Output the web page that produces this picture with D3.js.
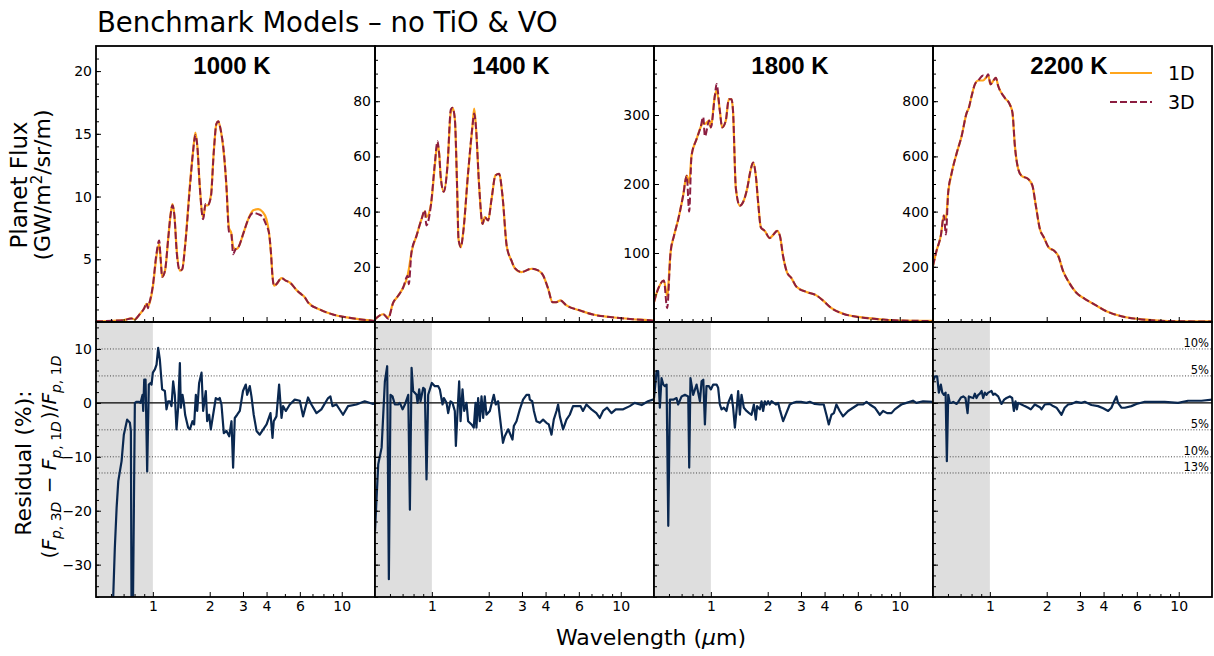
<!DOCTYPE html>
<html lang="en"><head><meta charset="utf-8">
<script type="text/javascript" src="https://cdn.jsdelivr.net/npm/d3@7"></script>
<style>body{margin:0;background:#fff;}</style>
</head>
<body>
<script type="text/javascript">
// Benchmark models, no TiO & VO: 1D vs 3D emission spectra and their residuals

var temps = ["1000 K", "1400 K", "1800 K", "2200 K"];
var seriesNames = ["1D", "3D"];

// ---- 1000 K ----
var wl1000 = [0.50, 0.62, 0.70, 0.77, 0.80, 0.85, 0.90, 0.926, 0.94, 0.96, 1.0, 1.046, 1.08, 1.10, 1.12, 1.16, 1.205, 1.24, 1.27, 1.30, 1.34, 1.39, 1.43, 1.48, 1.57, 1.63, 1.68, 1.72, 1.77, 1.846, 1.90, 1.95, 2.03, 2.10, 2.17, 2.22, 2.28, 2.38, 2.45, 2.53, 2.60, 2.66, 2.74, 2.82, 3.02, 3.20, 3.40, 3.61, 3.80, 3.99, 4.12, 4.22, 4.30, 4.38, 4.50, 4.80, 5.05, 5.31, 5.80, 6.12, 6.35, 6.64, 7.64, 8.98, 11.0, 14.6, 15.0];
var flux1d_1000 = [0.05, 0.1, 0.15, 0.3, 0.2, 0.6, 1.1, 1.45, 1.25, 1.5, 2.8, 5.3, 6.2, 5.0, 3.6, 4.1, 6.6, 8.5, 9.4, 8.5, 5.6, 4.1, 4.2, 6.0, 10.9, 13.5, 15.1, 14.0, 10.9, 8.35, 9.3, 9.3, 10.1, 13.5, 15.8, 16.0, 15.4, 13.3, 10.9, 7.5, 7.1, 6.0, 5.8, 5.9, 7.1, 8.2, 8.9, 9.0, 8.8, 8.2, 7.1, 5.5, 3.7, 2.9, 3.0, 3.5, 3.3, 3.15, 2.5, 2.2, 2.0, 1.55, 1.0, 0.6, 0.33, 0.1, 0.08];
var flux3d_1000 = [0.05, 0.1, 0.15, 0.28, 0.2, 0.6, 1.1, 1.5, 1.1, 1.55, 2.9, 5.5, 6.5, 5.0, 3.6, 4.1, 6.6, 8.5, 9.3, 8.5, 5.4, 4.1, 4.2, 6.0, 10.7, 13.5, 14.9, 14.0, 10.9, 8.2, 9.4, 9.3, 10.0, 13.5, 15.8, 16.0, 15.4, 13.4, 10.9, 7.2, 7.1, 5.4, 5.8, 5.9, 7.1, 8.2, 8.7, 8.6, 8.4, 7.7, 7.1, 5.5, 3.6, 2.9, 3.0, 3.5, 3.3, 3.15, 2.5, 2.2, 2.0, 1.55, 1.0, 0.6, 0.33, 0.1, 0.08];
var resWl1000 = [0.612, 0.616, 0.629, 0.643, 0.656, 0.683, 0.702, 0.731, 0.756, 0.765, 0.771, 0.784, 0.803, 0.82, 0.847, 0.861, 0.882, 0.889, 0.9, 0.915, 0.933, 0.952, 0.972, 0.984, 1.0, 1.025, 1.046, 1.067, 1.089, 1.12, 1.158, 1.181, 1.205, 1.23, 1.255, 1.281, 1.307, 1.334, 1.361, 1.39, 1.406, 1.435, 1.459, 1.482, 1.538, 1.57, 1.622, 1.654, 1.689, 1.717, 1.758, 1.81, 1.846, 1.907, 1.939, 1.986, 2.027, 2.085, 2.154, 2.216, 2.26, 2.308, 2.375, 2.454, 2.536, 2.608, 2.66, 2.715, 2.795, 2.885, 3.0, 3.105, 3.157, 3.26, 3.327, 3.42, 3.54, 3.68, 3.84, 4.0, 4.195, 4.3, 4.365, 4.51, 4.66, 4.8, 4.89, 5.06, 5.31, 5.64, 6.0, 6.24, 6.63, 6.91, 7.35, 7.8, 8.47, 8.71, 8.93, 9.37, 10.16, 10.8, 11.96, 13.23, 14.65, 15.0];
var res1000 = [-45, -36.5, -26.9, -19.4, -14.5, -10.8, -5.9, -3.1, -3.7, -5.2, -39, -39, 0, 0.2, 0.2, 0, 1.5, -1.5, 4.3, 4.3, -12.7, 3.4, 3.7, 3.4, 5.6, 6.2, 7.1, 10.2, 8.0, 2.5, 2.2, -1.2, 0.3, 0.3, -0.6, 4.0, 1.5, -4.9, -0.9, 7.4, -0.9, 1.5, 0, -2.2, -4.6, -4.9, -3.4, -4.0, 1.5, -1.5, 3.7, 5.6, -1.5, 2.2, -3.4, -2.2, -4.9, -2.2, 0.9, 0.6, 0.9, -0.3, -5.6, -5.2, -6.2, -3.4, -12.0, -2.8, -2.2, -1.5, 2.2, 3.4, 1.5, 3.1, 1.2, -2.2, -5.2, -5.9, -4.9, -4.0, -1.9, -6.5, -3.4, -2.5, 3.4, -2.8, -0.6, -1.5, -0.3, 0.6, 0.4, -2.5, 1.0, -0.3, -1.9, -1.2, 0.9, 1.2, -0.6, -0.3, -2.2, -0.6, -0.3, 0.3, -0.2, 0.0];

// ---- 1400 K ----
var wl1400 = [0.50, 0.553, 0.587, 0.624, 0.663, 0.705, 0.744, 0.755, 0.78, 0.83, 0.882, 0.918, 0.935, 0.99, 1.037, 1.071, 1.093, 1.116, 1.157, 1.21, 1.26, 1.287, 1.323, 1.361, 1.384, 1.424, 1.465, 1.556, 1.642, 1.675, 1.71, 1.78, 1.855, 1.907, 1.985, 2.07, 2.17, 2.27, 2.365, 2.49, 2.64, 2.75, 2.98, 3.37, 3.65, 3.88, 4.13, 4.35, 4.56, 4.79, 5.16, 6.07, 7.13, 8.77, 11.6, 14.8, 15.0];
var flux1d_1400 = [1.0, 2.8, 1.7, 7.0, 9.5, 12.5, 16.8, 19.0, 25.2, 31.3, 37.3, 40.0, 38.0, 42.7, 56.7, 64.6, 61.0, 52.0, 47.2, 56.7, 76.1, 77.6, 73.7, 48.3, 30.0, 27.1, 32.4, 54.2, 71.2, 77.3, 71.0, 49.2, 35.5, 38.0, 36.8, 44.5, 53.1, 53.7, 45.8, 27.6, 22.2, 19.5, 18.1, 19.3, 18.7, 16.9, 12.0, 7.2, 7.2, 7.8, 6.0, 4.2, 2.7, 1.8, 1.0, 0.5, 0.45];
var flux3d_1400 = [1.0, 2.8, 1.2, 7.0, 9.5, 12.5, 16.8, 13.7, 25.2, 31.3, 37.3, 40.5, 35.0, 42.7, 57.5, 65.5, 61.0, 52.0, 47.2, 56.7, 77.0, 77.6, 73.7, 48.3, 30.0, 27.1, 32.4, 54.2, 71.2, 75.5, 71.0, 49.2, 35.5, 38.0, 36.8, 44.5, 53.1, 53.7, 45.8, 27.6, 22.2, 19.5, 18.1, 19.3, 18.7, 16.9, 12.0, 7.2, 7.2, 7.8, 6.0, 4.2, 2.7, 1.8, 1.0, 0.5, 0.45];
var resWl1400 = [0.5, 0.52, 0.542, 0.564, 0.58, 0.592, 0.604, 0.619, 0.637, 0.663, 0.677, 0.70, 0.72, 0.75, 0.765, 0.781, 0.796, 0.83, 0.84, 0.857, 0.871, 0.9, 0.918, 0.937, 0.956, 0.976, 1.0, 1.037, 1.08, 1.102, 1.139, 1.158, 1.196, 1.22, 1.255, 1.286, 1.323, 1.34, 1.368, 1.395, 1.419, 1.453, 1.483, 1.526, 1.556, 1.622, 1.667, 1.703, 1.722, 1.758, 1.794, 1.832, 1.869, 1.906, 1.945, 2.027, 2.128, 2.18, 2.244, 2.29, 2.38, 2.433, 2.535, 2.608, 2.672, 2.716, 2.806, 2.922, 3.04, 3.17, 3.27, 3.30, 3.40, 3.47, 3.58, 3.73, 3.88, 4.04, 4.16, 4.30, 4.42, 4.57, 4.66, 4.76, 4.95, 5.16, 5.37, 5.59, 5.94, 6.12, 6.31, 6.58, 7.0, 7.43, 7.74, 8.06, 8.47, 8.93, 9.41, 10.3, 11.16, 11.85, 12.9, 13.94, 14.8, 15.0];
var res1400 = [-23.8, -11.4, -8.3, 4.0, 6.8, -32.7, 1.5, 1.2, -0.3, -0.3, 0, -1.2, -0.3, 1.5, -19.8, 6.5, 2.2, 1.5, 0, 2.5, 0.3, 2.8, 2.5, -14.2, 1.5, 2.5, 3.7, 3.1, 3.1, 2.5, -0.3, 0.9, 0, -1.9, 0.3, 0, -1.5, -8.0, -1.5, 4.0, -3.4, 2.5, -1.5, 0, -3.4, -4.0, -4.6, 0, -4.6, 0.9, -3.4, 1.2, -2.8, 1.2, -2.2, -1.5, 1.5, -0.3, 0.3, -2.5, -7.4, -6.2, -4.9, -5.9, -6.8, -4.3, -3.4, -1.2, 0.6, 1.5, 1.5, 0.6, 0.3, -1.5, -3.4, -3.7, -3.1, -3.7, -4.0, -5.9, -3.1, -1.5, -0.3, -2.5, -4.9, -3.1, -2.2, -0.6, -0.6, -0.6, -1.5, -0.3, -1.2, -1.9, -2.8, -1.5, -0.9, -1.9, -1.2, -1.2, -0.6, 0, -0.4, 0.3, 0.6, 0.6];

// ---- 1800 K ----
var wl1800 = [0.50, 0.521, 0.564, 0.587, 0.612, 0.638, 0.672, 0.713, 0.745, 0.768, 0.79, 0.84, 0.882, 0.911, 0.93, 0.98, 1.0, 1.05, 1.072, 1.116, 1.147, 1.20, 1.245, 1.286, 1.31, 1.356, 1.424, 1.48, 1.556, 1.62, 1.674, 1.73, 1.78, 1.84, 1.93, 2.05, 2.15, 2.24, 2.32, 2.41, 2.53, 2.67, 2.84, 3.21, 3.62, 3.93, 4.35, 5.01, 6.14, 8.16, 10.4, 15.0];
var flux1d_1800 = [28.5, 45, 60, 38, 101, 125, 149, 183, 212, 202, 241, 265, 282, 289, 287, 292, 282, 328, 335, 306, 282, 292, 323, 323, 306, 194, 168.6, 173.5, 193, 219, 231, 212, 173, 137, 132, 121.7, 127, 132, 125, 96, 72, 63.7, 51, 43.5, 38.6, 31, 20, 12, 7, 3.6, 2, 1.5];
var flux3d_1800 = [28.5, 45, 60, 20, 101, 125, 149, 183, 212, 160, 241, 265, 282, 297, 269, 292, 282, 328, 345, 306, 282, 292, 323, 323, 306, 194, 168.6, 173.5, 193, 219, 231, 212, 173, 137, 132, 121.7, 127, 132, 125, 96, 72, 63.7, 51, 43.5, 38.6, 31, 20, 12, 7, 3.6, 2, 1.5];
var resWl1800 = [0.5, 0.516, 0.526, 0.537, 0.548, 0.56, 0.571, 0.583, 0.595, 0.607, 0.632, 0.658, 0.671, 0.70, 0.729, 0.759, 0.768, 0.78, 0.806, 0.84, 0.857, 0.875, 0.893, 0.912, 0.93, 0.948, 0.976, 1.0, 1.029, 1.072, 1.093, 1.116, 1.139, 1.172, 1.21, 1.235, 1.286, 1.312, 1.34, 1.367, 1.395, 1.424, 1.453, 1.495, 1.545, 1.595, 1.642, 1.689, 1.73, 1.758, 1.817, 1.854, 1.892, 1.931, 1.971, 2.01, 2.05, 2.094, 2.154, 2.208, 2.27, 2.317, 2.414, 2.51, 2.618, 2.726, 2.84, 3.0, 3.21, 3.34, 3.55, 3.77, 3.96, 4.09, 4.21, 4.35, 4.48, 4.62, 4.81, 5.01, 5.33, 5.66, 6.01, 6.40, 6.67, 6.94, 7.38, 7.84, 8.16, 8.57, 9.04, 9.41, 10.2, 10.85, 11.75, 12.25, 13.3, 15.0];
var res1800 = [0.9, 5.9, 5.9, -0.9, 4.6, 3.4, 3.1, 3.4, -22.8, 0.6, 0.6, 0.9, -0.3, 1.2, 1.5, 1.2, -12.0, 4.6, 1.5, 3.4, 1.9, 0.3, 4.0, 4.3, -4.0, 3.1, 3.1, 2.5, 3.4, 3.4, 2.8, -0.3, -1.2, -0.9, -1.5, 0, 1.5, -0.9, -4.6, -1.5, 2.2, -2.2, 1.5, -0.9, -1.5, -1.9, -2.2, -0.3, -3.1, -0.6, -1.2, 0.3, -1.5, 0.3, -0.3, 0.3, -0.3, 0.3, 0, -0.3, 0, -1.2, -3.4, -1.9, -0.3, 0, 0.2, 0.2, 0, 0.2, -0.2, -0.3, -0.3, -2.2, -4.0, -2.2, -1.9, -0.3, -1.5, -2.5, -1.5, -0.9, -0.3, -0.3, 0.2, -0.3, -0.9, -2.2, -1.5, -1.9, -1.9, -1.2, -0.3, 0, 0.4, 0, 0.3, 0.2];

// ---- 2200 K ----
var wl2200 = [0.50, 0.522, 0.55, 0.571, 0.585, 0.602, 0.627, 0.667, 0.708, 0.753, 0.774, 0.80, 0.833, 0.868, 0.922, 0.952, 0.98, 1.008, 1.04, 1.076, 1.107, 1.20, 1.276, 1.318, 1.356, 1.412, 1.47, 1.595, 1.68, 1.752, 1.84, 1.93, 2.05, 2.19, 2.30, 2.44, 2.60, 2.87, 3.18, 3.59, 4.14, 4.97, 6.09, 7.77, 9.9, 15.0];
var flux1d_2200 = [204, 258, 313, 386, 372, 471, 538, 611, 672, 757, 776, 818, 861, 875, 875, 885, 893, 861, 873, 885, 855, 812, 788, 757, 640, 555, 530, 518, 494, 421, 337, 307, 270, 258, 240, 185, 148, 106, 84, 63, 39, 20.8, 11, 5, 2.6, 2];
var flux3d_2200 = [204, 258, 313, 386, 317, 471, 538, 611, 672, 757, 776, 818, 861, 875, 893, 885, 898, 861, 873, 885, 855, 812, 788, 757, 640, 555, 530, 518, 494, 421, 337, 307, 270, 258, 240, 185, 148, 106, 84, 63, 39, 20.8, 11, 5, 2.6, 2];
var resWl2200 = [0.5, 0.512, 0.526, 0.537, 0.55, 0.56, 0.571, 0.583, 0.592, 0.602, 0.614, 0.627, 0.64, 0.667, 0.68, 0.703, 0.723, 0.743, 0.762, 0.774, 0.80, 0.816, 0.833, 0.85, 0.868, 0.885, 0.904, 0.922, 0.941, 0.96, 0.98, 1.02, 1.041, 1.063, 1.107, 1.153, 1.19, 1.225, 1.276, 1.313, 1.34, 1.367, 1.39, 1.412, 1.471, 1.53, 1.595, 1.648, 1.73, 1.84, 1.877, 1.954, 2.077, 2.16, 2.253, 2.395, 2.49, 2.597, 2.70, 2.87, 3.05, 3.18, 3.45, 3.74, 3.98, 4.23, 4.40, 4.55, 4.68, 4.77, 4.97, 5.18, 5.62, 5.97, 6.61, 7.46, 8.43, 9.92, 11.2, 13.2, 15.0];
var res2200 = [4.0, 4.9, 4.9, 1.9, 3.4, 1.9, 1.5, 1.9, -10.8, 1.5, 0, 0, 0.2, -0.2, 0.2, 1.0, 1.2, 0.9, -1.9, 1.2, 1.0, 0.9, 1.7, 0.9, 1.5, 1.7, 2.2, 0.9, 1.9, 1.5, 1.9, 2.2, 1.5, 1.7, 1.2, -0.2, 0.6, 0.9, 1.2, 0.9, -1.5, 0.3, -1.2, 0, -0.3, -0.6, -0.9, -1.2, -0.3, -0.8, -1.2, -0.3, -0.2, -0.6, -0.9, -2.2, -0.9, -0.3, -0.2, 0.2, 0, 0.2, -0.4, -0.6, -1.0, -1.5, -0.9, 0.3, 1.2, 0, -0.9, -0.9, -0.6, -0.2, 0.2, 0.2, 0.2, 0, 0.4, 0.4, 0.6];

// axis settings
var fluxMax = [22, 100, 400, 1000];
var fluxTicks = [[5, 10, 15, 20], [20, 40, 60, 80], [100, 200, 300], [200, 400, 600, 800]];
var fluxMinorStep = [1, 5, 20, 50];
var wlTicks = [1, 2, 3, 4, 6, 10];
var wlMinor = [0.6, 0.7, 0.8, 0.9, 5, 7, 8, 9];
var resTicks = [10, 0, -10, -20, -30];
var refLevels = [10, 5, -5, -10, -13];
var refLabels = ["10%", "5%", "5%", "10%", "13%"];

var panels = [
    {wl: wl1000, f1: flux1d_1000, f3: flux3d_1000, rwl: resWl1000, res: res1000},
    {wl: wl1400, f1: flux1d_1400, f3: flux3d_1400, rwl: resWl1400, res: res1400},
    {wl: wl1800, f1: flux1d_1800, f3: flux3d_1800, rwl: resWl1800, res: res1800},
    {wl: wl2200, f1: flux1d_2200, f3: flux3d_2200, rwl: resWl2200, res: res2200}
];

var width = 1214, height = 656;
var left0 = 96, pw = 279, topY = 46, midY = 322, botY = 597;
var font = "'DejaVu Sans', sans-serif";
var c1d = "#ffa51c", c3d = "#8c1d40", cres = "#0a2850";

var svg = d3.select("body").append("svg")
    .attr("width", width).attr("height", height)
    .style("font-family", font);

var yR = d3.scaleLinear().domain([-36, 15]).range([botY, midY]);

function styleAxis(g) {
    g.select(".domain").remove();
    g.attr("font-family", font).attr("font-size", 14);
    g.selectAll(".tick line").attr("stroke", "#000").attr("stroke-width", 1);
    g.selectAll(".tick text").attr("fill", "#000");
}

panels.forEach(function(p, i) {
    var x0 = left0 + i * pw;
    var x = d3.scaleLog().domain([0.5, 15]).range([x0, x0 + pw]);
    var yT = d3.scaleLinear().domain([0, fluxMax[i]]).range([midY, topY]);

    var defs = svg.append("defs");
    defs.append("clipPath").attr("id", "clipT" + i).append("rect")
        .attr("x", x0).attr("y", topY).attr("width", pw).attr("height", midY - topY);
    defs.append("clipPath").attr("id", "clipR" + i).append("rect")
        .attr("x", x0).attr("y", midY).attr("width", pw).attr("height", botY - midY);

    // ---- residual panel ----
    var gr = svg.append("g").attr("clip-path", "url(#clipR" + i + ")");
    gr.append("rect")
        .attr("x", x(0.5)).attr("y", midY)
        .attr("width", x(1.0) - x(0.5)).attr("height", botY - midY)
        .attr("fill", "#dedede");
    gr.selectAll("line.ref").data(refLevels).enter().append("line")
        .attr("x1", x0).attr("x2", x0 + pw)
        .attr("y1", d => yR(d)).attr("y2", d => yR(d))
        .attr("stroke", "#333").attr("stroke-width", 0.9)
        .attr("stroke-dasharray", "1,1.8");
    gr.append("line")
        .attr("x1", x0).attr("x2", x0 + pw)
        .attr("y1", yR(0)).attr("y2", yR(0))
        .attr("stroke", "#000").attr("stroke-width", 1.3);
    var resLine = d3.line().x(d => x(d[0])).y(d => yR(d[1]));
    gr.append("path")
        .attr("d", resLine(d3.zip(p.rwl, p.res)))
        .attr("fill", "none").attr("stroke", cres)
        .attr("stroke-width", 2.2).attr("stroke-linejoin", "round");

    if (i == 3) {
        svg.selectAll("text.pct").data(refLevels).enter().append("text")
            .attr("x", x0 + pw - 3).attr("y", d => yR(d) - 2)
            .attr("text-anchor", "end").attr("font-size", 11.5)
            .text((d, k) => refLabels[k]);
    }

    // ---- flux panel ----
    var gt = svg.append("g").attr("clip-path", "url(#clipT" + i + ")");
    var fluxLine = d3.line().x(d => x(d[0])).y(d => yT(d[1])).curve(d3.curveMonotoneX);
    gt.append("path")
        .attr("d", fluxLine(d3.zip(p.wl, p.f1)))
        .attr("fill", "none").attr("stroke", c1d).attr("stroke-width", 2.2);
    gt.append("path")
        .attr("d", fluxLine(d3.zip(p.wl, p.f3)))
        .attr("fill", "none").attr("stroke", c3d).attr("stroke-width", 2)
        .attr("stroke-dasharray", "7,3");

    // ---- axes ----
    svg.append("g").attr("transform", "translate(" + x0 + ",0)")
        .call(d3.axisLeft(yT).tickValues(d3.range(0, fluxMax[i], fluxMinorStep[i])).tickSize(-3).tickFormat(""))
        .call(styleAxis);
    svg.append("g").attr("transform", "translate(" + x0 + ",0)")
        .call(d3.axisLeft(yT).tickValues(fluxTicks[i]).tickSize(-5).tickPadding(4))
        .call(styleAxis);

    svg.append("g").attr("transform", "translate(" + x0 + ",0)")
        .call(d3.axisLeft(yR).tickValues(d3.range(-36, 15, 2)).tickSize(-3).tickFormat(""))
        .call(styleAxis);
    svg.append("g").attr("transform", "translate(" + x0 + ",0)")
        .call(d3.axisLeft(yR).tickValues(resTicks).tickSize(-5).tickPadding(4)
            .tickFormat(i == 0 ? d3.format("d") : ""))
        .call(styleAxis);

    [midY, botY].forEach(function(yy, row) {
        svg.append("g").attr("transform", "translate(0," + yy + ")")
            .call(d3.axisBottom(x).tickValues(wlMinor).tickSize(-3).tickFormat(""))
            .call(styleAxis);
        svg.append("g").attr("transform", "translate(0," + yy + ")")
            .call(d3.axisBottom(x).tickValues(wlTicks).tickSize(-5).tickPadding(4)
                .tickFormat(row == 1 ? d3.format("d") : ""))
            .call(styleAxis);
    });

    // spines
    [[topY, midY], [midY, botY]].forEach(function(r) {
        svg.append("rect")
            .attr("x", x0).attr("y", r[0]).attr("width", pw).attr("height", r[1] - r[0])
            .attr("fill", "none").attr("stroke", "#000").attr("stroke-width", 1.8);
    });

    // column title
    svg.append("text")
        .attr("x", x0 + 136).attr("y", 74)
        .attr("text-anchor", "middle")
        .style("font-family", "'Liberation Sans', Arial, sans-serif")
        .style("font-weight", "bold").style("font-size", "24px")
        .text(temps[i]);
});

// legend (last flux panel)
var leg = svg.append("g");
seriesNames.forEach(function(name, k) {
    var yy = 73 + k * 29;
    leg.append("line")
        .attr("x1", 1110).attr("x2", 1152).attr("y1", yy).attr("y2", yy)
        .attr("stroke", k == 0 ? c1d : c3d).attr("stroke-width", 2)
        .attr("stroke-dasharray", k == 0 ? null : "7,3");
    leg.append("text")
        .attr("x", 1168).attr("y", yy + 7)
        .style("font-size", "19px")
        .text(name);
});

// title and axis labels
svg.append("text").attr("x", 97).attr("y", 32)
    .style("font-size", "27.5px").text("Benchmark Models \u2013 no TiO & VO");

svg.append("text").attr("transform", "translate(27,185) rotate(-90)")
    .attr("text-anchor", "middle").style("font-size", "23px").text("Planet Flux");
var yl2 = svg.append("text").attr("transform", "translate(50,185) rotate(-90)")
    .attr("text-anchor", "middle").style("font-size", "22px");
yl2.append("tspan").text("(GW/m");
yl2.append("tspan").attr("dy", -8).style("font-size", "15px").text("2");
yl2.append("tspan").attr("dy", 8).text("/sr/m)");

svg.append("text").attr("transform", "translate(31,463) rotate(-90)")
    .attr("text-anchor", "middle").style("font-size", "22px").text("Residual (%):");

var yl4 = svg.append("text").attr("transform", "translate(56,456) rotate(-90)")
    .attr("text-anchor", "middle").style("font-size", "20px");
function fluxSym(t, sub) {
    t.append("tspan").style("font-style", "italic").text("F");
    t.append("tspan").attr("dy", 5).style("font-size", "14px").style("font-style", "italic").text("p");
    t.append("tspan").style("font-size", "14px").text(", " + sub);
    t.append("tspan").style("font-size", "14px").style("font-style", "italic").text("D");
    t.append("tspan").attr("dy", -5).text("\u200a");
}
yl4.append("tspan").text("(");
fluxSym(yl4, "3");
yl4.append("tspan").text(" \u2212 ");
fluxSym(yl4, "1");
yl4.append("tspan").text(")/");
fluxSym(yl4, "1");

var xl = svg.append("text").attr("x", 651).attr("y", 645)
    .attr("text-anchor", "middle").style("font-size", "22px");
xl.append("tspan").text("Wavelength (");
xl.append("tspan").style("font-style", "italic").text("\u03bc");
xl.append("tspan").text("m)");
</script>
</body></html>
